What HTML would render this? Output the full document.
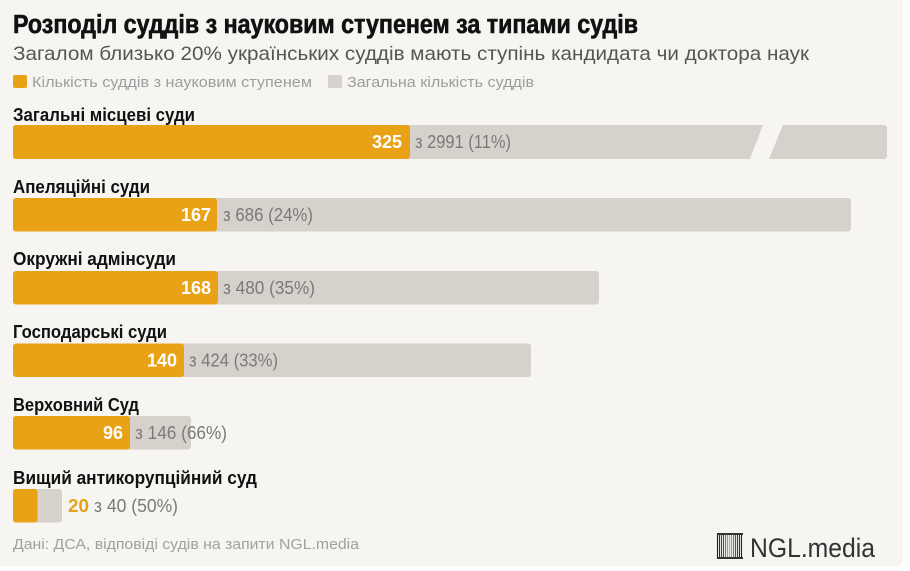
<!DOCTYPE html>
<html><head><meta charset="utf-8"><style>
html,body{margin:0;padding:0;background:#fff;}
svg{display:block;}
text{font-family:"Liberation Sans","DejaVu Sans",sans-serif;}
</style></head><body>
<svg width="910" height="571" viewBox="0 0 910 571" xmlns="http://www.w3.org/2000/svg">
<rect x="-10" y="-10" width="913" height="576" rx="7" fill="#f7f5f2"/>
<text x="13" y="33" font-size="25.5" font-weight="bold" fill="#111" stroke="#111" stroke-width="0.6" textLength="625" lengthAdjust="spacingAndGlyphs">Розподіл суддів з науковим ступенем за типами судів</text>
<text x="13" y="60" font-size="19.5" fill="#555" textLength="796" lengthAdjust="spacingAndGlyphs">Загалом близько 20% українських суддів мають ступінь кандидата чи доктора наук</text>
<rect x="13" y="75" width="14" height="13" rx="2" fill="#e9a115"/>
<text x="32" y="87" font-size="15" fill="#9d9d9d" textLength="280" lengthAdjust="spacingAndGlyphs">Кількість суддів з науковим ступенем</text>
<rect x="328" y="75" width="14" height="13" rx="2" fill="#d6d1ca"/>
<text x="347" y="87" font-size="15" fill="#9d9d9d" textLength="187" lengthAdjust="spacingAndGlyphs">Загальна кількість суддів</text>

<!-- Row 1 -->
<text x="13" y="121" font-size="18" font-weight="bold" fill="#111" textLength="182" lengthAdjust="spacingAndGlyphs">Загальні місцеві суди</text>
<path d="M16,125 L763,125 L750,159 L16,159 Q13,159 13,156 L13,128 Q13,125 16,125 Z" fill="#d6d1ca"/>
<path d="M783,125 L883,125 Q887,125 887,128 L887,156 Q887,159 883,159 L769,159 Z" fill="#d6d1ca"/>
<rect x="13" y="125" width="397" height="34" rx="3" fill="#e9a115"/>
<text x="402" y="148" font-size="18" font-weight="bold" fill="#fff" text-anchor="end">325</text>
<text x="415" y="148" font-size="18" fill="#7a7a7a" textLength="96" lengthAdjust="spacingAndGlyphs">з 2991 (11%)</text>

<!-- Row 2 -->
<text x="13" y="193" font-size="18" font-weight="bold" fill="#111" textLength="137" lengthAdjust="spacingAndGlyphs">Апеляційні суди</text>
<rect x="13" y="198" width="838" height="33.5" rx="3" fill="#d6d1ca"/>
<rect x="13" y="198" width="204" height="33.5" rx="3" fill="#e9a115"/>
<text x="211" y="221" font-size="18" font-weight="bold" fill="#fff" text-anchor="end">167</text>
<text x="223" y="221" font-size="18" fill="#7a7a7a" textLength="90" lengthAdjust="spacingAndGlyphs">з 686 (24%)</text>

<!-- Row 3 -->
<text x="13" y="265" font-size="18" font-weight="bold" fill="#111" textLength="163" lengthAdjust="spacingAndGlyphs">Окружні адмінсуди</text>
<rect x="13" y="271" width="586" height="33.5" rx="3" fill="#d6d1ca"/>
<rect x="13" y="271" width="205" height="33.5" rx="3" fill="#e9a115"/>
<text x="211" y="294" font-size="18" font-weight="bold" fill="#fff" text-anchor="end">168</text>
<text x="223" y="294" font-size="18" fill="#7a7a7a" textLength="92" lengthAdjust="spacingAndGlyphs">з 480 (35%)</text>

<!-- Row 4 -->
<text x="13" y="338" font-size="18" font-weight="bold" fill="#111" textLength="154" lengthAdjust="spacingAndGlyphs">Господарські суди</text>
<rect x="13" y="343.5" width="518" height="33.5" rx="3" fill="#d6d1ca"/>
<rect x="13" y="343.5" width="171" height="33.5" rx="3" fill="#e9a115"/>
<text x="177" y="366.5" font-size="18" font-weight="bold" fill="#fff" text-anchor="end">140</text>
<text x="189" y="366.5" font-size="18" fill="#7a7a7a" textLength="89" lengthAdjust="spacingAndGlyphs">з 424 (33%)</text>

<!-- Row 5 -->
<text x="13" y="411" font-size="18" font-weight="bold" fill="#111" textLength="126" lengthAdjust="spacingAndGlyphs">Верховний Суд</text>
<rect x="13" y="416" width="178" height="33.5" rx="3" fill="#d6d1ca"/>
<rect x="13" y="416" width="117" height="33.5" rx="3" fill="#e9a115"/>
<text x="123" y="439" font-size="18" font-weight="bold" fill="#fff" text-anchor="end">96</text>
<text x="135" y="439" font-size="18" fill="#7a7a7a" textLength="92" lengthAdjust="spacingAndGlyphs">з 146 (66%)</text>

<!-- Row 6 -->
<text x="13" y="484" font-size="18" font-weight="bold" fill="#111" textLength="244" lengthAdjust="spacingAndGlyphs">Вищий антикорупційний суд</text>
<rect x="13" y="489" width="49" height="33.5" rx="3" fill="#d6d1ca"/>
<rect x="13" y="489" width="24.5" height="33.5" rx="3" fill="#e9a115"/>
<text x="68" y="512" font-size="18" font-weight="bold" fill="#e9a115" textLength="21" lengthAdjust="spacingAndGlyphs">20</text>
<text x="94" y="512" font-size="18" fill="#7a7a7a" textLength="84" lengthAdjust="spacingAndGlyphs">з 40 (50%)</text>

<!-- Footer -->
<text x="13" y="549" font-size="15" fill="#a0a0a0" textLength="346" lengthAdjust="spacingAndGlyphs">Дані: ДСА, відповіді судів на запити NGL.media</text>
<g stroke-width="1.1">
<line x1="717.5" y1="533" x2="717.5" y2="559" stroke="#222"/>
<line x1="719.5" y1="533" x2="719.5" y2="559" stroke="#333"/>
<line x1="721.5" y1="533" x2="721.5" y2="559" stroke="#444"/>
<line x1="723.5" y1="533" x2="723.5" y2="559" stroke="#555"/>
<line x1="725.5" y1="533" x2="725.5" y2="559" stroke="#777"/>
<line x1="727.5" y1="533" x2="727.5" y2="559" stroke="#999"/>
<line x1="729.5" y1="533" x2="729.5" y2="559" stroke="#aaa"/>
<line x1="731.5" y1="533" x2="731.5" y2="559" stroke="#999"/>
<line x1="733.5" y1="533" x2="733.5" y2="559" stroke="#777"/>
<line x1="735.5" y1="533" x2="735.5" y2="559" stroke="#555"/>
<line x1="737.5" y1="533" x2="737.5" y2="559" stroke="#444"/>
<line x1="739.5" y1="533" x2="739.5" y2="559" stroke="#333"/>
<line x1="741.5" y1="533" x2="741.5" y2="559" stroke="#222"/>
</g>
<rect x="717" y="533" width="26" height="2" fill="#333"/>
<rect x="717" y="557" width="26" height="2" fill="#333"/>
<text x="750" y="557" font-size="27" fill="#333" textLength="125" lengthAdjust="spacingAndGlyphs">NGL.media</text>
</svg>
</body></html>
